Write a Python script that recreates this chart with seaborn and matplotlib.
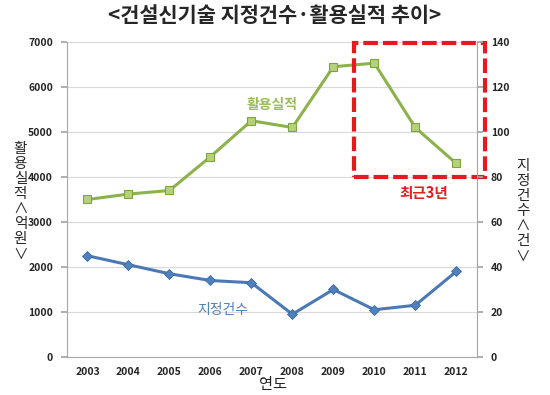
import numpy as np
import pandas as pd
import matplotlib
matplotlib.use("Agg")
import matplotlib.pyplot as plt
import seaborn as sns
from matplotlib.patches import Rectangle

years = ["2003", "2004", "2005", "2006", "2007", "2008", "2009", "2010", "2011", "2012"]
usage = [3500, 3620, 3700, 4450, 5250, 5100, 6450, 6530, 5100, 4300]   # 활용실적 (억원)
designations = [45, 41, 37, 34, 33, 19, 30, 21, 23, 38]               # 지정건수 (건)
left_ticks = [0, 1000, 2000, 3000, 4000, 5000, 6000, 7000]
right_ticks = [0, 20, 40, 60, 80, 100, 120, 140]

sns.set_theme(style="white")
plt.rcParams['font.family'] = ['Noto Sans CJK KR', 'DejaVu Sans']

df = pd.DataFrame({"pos": np.arange(len(years)), "usage": usage, "desig": designations})

fig = plt.figure(figsize=(5.5, 3.95), dpi=100)
ax = fig.add_axes([0.1218, 0.0962, 0.745, 0.7975])
ax2 = ax.twinx()

green = "#8CB24B"
blue = "#4A79B5"

sns.lineplot(data=df, x="pos", y="usage", ax=ax, color=green, linewidth=2.2,
             marker="s", markersize=6, markerfacecolor="#B5D17A",
             markeredgecolor="#7FA43E", markeredgewidth=0.8, zorder=3)
sns.lineplot(data=df, x="pos", y="desig", ax=ax2, color=blue, linewidth=2.2,
             marker="D", markersize=5, markerfacecolor="#4F81BD",
             markeredgecolor="#3C6AA3", markeredgewidth=0.6, zorder=3)

ax.set_xlim(-0.5, len(years) - 0.5)
ax.set_ylim(0, 7000)
ax2.set_ylim(0, 140)
ax.set_yticks(left_ticks)
ax.set_yticklabels([str(t) for t in left_ticks], fontsize=7.5, fontweight="bold")
ax2.set_yticks(right_ticks)
ax2.set_yticklabels([str(t) for t in right_ticks], fontsize=7.5, fontweight="bold")
ax.set_xticks(np.arange(len(years)))
ax.set_xticklabels(years, fontsize=7.5, fontweight="bold")
ax.set_xticks(np.arange(len(years) + 1) - 0.5, minor=True)
ax.tick_params(axis="x", which="major", length=0, pad=7)
ax.tick_params(axis="x", which="minor", length=4, color="#A6A6A6", direction="out")
ax.tick_params(axis="y", length=4, color="#A6A6A6", direction="out", pad=6)
ax2.tick_params(axis="y", length=4, color="#A6A6A6", direction="out", pad=6)

ax.yaxis.grid(True, color="#D9D9D9", linewidth=0.8)
ax.set_axisbelow(True)
for a in (ax, ax2):
    a.spines["top"].set_visible(False)
    for s in ("left", "bottom", "right"):
        a.spines[s].set_color("#A6A6A6")
        a.spines[s].set_linewidth(0.8)
ax.spines["right"].set_visible(False)
ax2.spines["left"].set_visible(False)
ax2.spines["bottom"].set_visible(False)

ax.set_xlabel("")
ax.set_ylabel("")
ax2.set_ylabel("")
fig.text(0.497, 0.027, "연도", ha="center", va="center", fontsize=11)

fig.text(0.5, 0.962, "<건설신기술 지정건수·활용실적 추이>", ha="center", va="center",
         fontsize=15, fontweight="bold")

fig.text(0.037, 0.49, "활\n용\n실\n적\n∧\n억\n원\n∨", ha="center", va="center",
         fontsize=10.5, linespacing=1.1)
fig.text(0.951, 0.466, "지\n정\n건\n수\n∧\n건\n∨", ha="center", va="center",
         fontsize=10.5, linespacing=1.1)

ax.text(4.5, 5600, "활용실적", color="#9BBB59", fontsize=10, fontweight="bold", ha="center", va="center")
ax.text(3.3, 1040, "지정건수", color="#4F81BD", fontsize=10, ha="center", va="center")
ax.text(8.2, 3650, "최근3년", color="#E02020", fontsize=10.5, fontweight="bold", ha="center", va="center")

rect = Rectangle((6.5, 4000), 3.2, 2980, fill=False, edgecolor="#E41A1C",
                 linewidth=3, linestyle=(0, (3.5, 1.2)), clip_on=False, zorder=5)
ax.add_patch(rect)

fig.savefig("out.png", dpi=100)
